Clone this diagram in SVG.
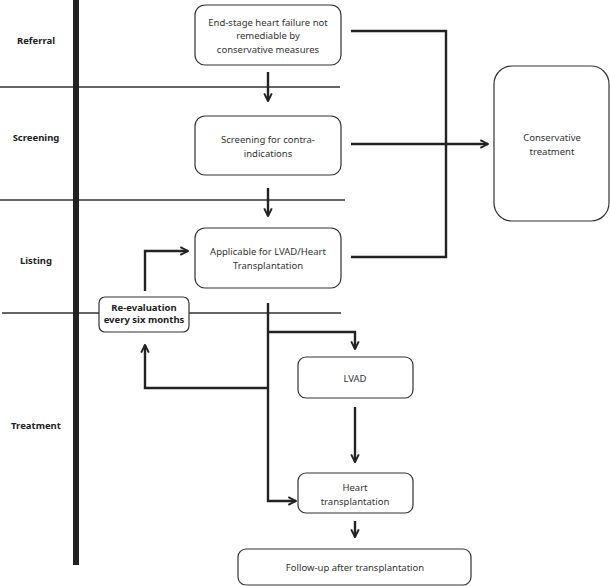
<svg xmlns="http://www.w3.org/2000/svg" width="610" height="586" viewBox="0 0 610 586">
<style>
.box{fill:#fff;stroke:#333;stroke-width:1.2}
.t{font-family:"Noto Sans","Open Sans",sans-serif;font-size:9.5px;fill:#333;text-anchor:middle}
.lab{font-family:"Noto Sans","Open Sans",sans-serif;font-size:9.5px;font-weight:bold;fill:#222;text-anchor:middle}
.lane{stroke:#333;stroke-width:1.6;fill:none}
.c{stroke:#222;stroke-width:2.4;fill:none}
</style>
<defs>
<marker id="ah" viewBox="0 0 10 10" refX="9" refY="5" markerWidth="4" markerHeight="4" orient="auto" markerUnits="strokeWidth">
<path d="M1,1 L9,5 L1,9" fill="none" stroke="#222" stroke-width="2"/>
</marker>
</defs>
<g id="lanes">
<line class="lane" x1="0" y1="87" x2="340" y2="87"/>
<line class="lane" x1="0" y1="200" x2="345" y2="200"/>
<line class="lane" x1="2" y1="313" x2="341" y2="313"/>
<rect x="73" y="0" width="6" height="565" fill="#222"/>
<text class="lab" x="36" y="44">Referral</text>
<text class="lab" x="36" y="141">Screening</text>
<text class="lab" x="36" y="264">Listing</text>
<text class="lab" x="36" y="429">Treatment</text>
</g>
<g id="connectors">
<path class="c" d="M268 72 V101" marker-end="url(#ah)"/>
<path class="c" d="M268 188 V216" marker-end="url(#ah)"/>
<path class="c" d="M351 31 H446 V257 H351"/>
<path class="c" d="M351 144 H488" marker-end="url(#ah)"/>
<path class="c" d="M145 291 V251 H188" marker-end="url(#ah)"/>
<path class="c" d="M268 303 V501 H296" marker-end="url(#ah)"/>
<path class="c" d="M268 332 H355 V349" marker-end="url(#ah)"/>
<path class="c" d="M268 388 H145 V345" marker-end="url(#ah)"/>
<path class="c" d="M355 407 V462" marker-end="url(#ah)"/>
<path class="c" d="M355 521 V537" marker-end="url(#ah)"/>
</g>
<g id="n1">
<rect class="box" x="195" y="5" width="146" height="60" rx="10"/>
<text class="t" x="268" y="26">End-stage heart failure not</text>
<text class="t" x="268" y="39">remediable by</text>
<text class="t" x="268" y="53">conservative measures</text>
</g>
<g id="n2">
<rect class="box" x="195" y="116" width="146" height="59" rx="10"/>
<text class="t" x="268" y="143">Screening for contra-</text>
<text class="t" x="268" y="157">indications</text>
</g>
<g id="n3">
<rect class="box" x="195" y="228" width="146" height="60" rx="10"/>
<text class="t" x="268" y="255">Applicable for LVAD/Heart</text>
<text class="t" x="268" y="269">Transplantation</text>
</g>
<g id="n4">
<rect class="box" x="494" y="66" width="115" height="155" rx="18"/>
<text class="t" x="552" y="141">Conservative</text>
<text class="t" x="552" y="155">treatment</text>
</g>
<g id="n5">
<rect class="box" x="99" y="297" width="90" height="35" rx="6"/>
<text class="lab" x="144" y="311">Re-evaluation</text>
<text class="lab" x="144" y="323">every six months</text>
</g>
<g id="n6">
<rect class="box" x="298" y="357" width="115" height="41" rx="8"/>
<text class="t" x="355" y="382">LVAD</text>
</g>
<g id="n7">
<rect class="box" x="298" y="473" width="115" height="40" rx="8"/>
<text class="t" x="355" y="491">Heart</text>
<text class="t" x="355" y="505">transplantation</text>
</g>
<g id="n8">
<rect class="box" x="238" y="549" width="233" height="36" rx="8"/>
<text class="t" x="355" y="571">Follow-up after transplantation</text>
</g>
</svg>
